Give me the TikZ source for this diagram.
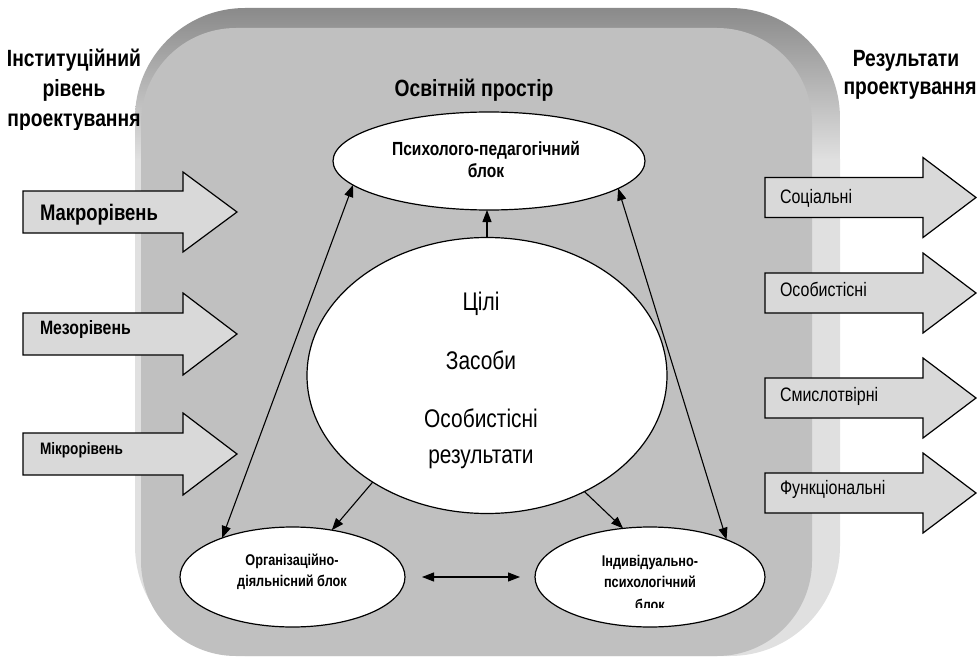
\documentclass[tikz,border=0pt]{standalone}
\usepackage{fontspec}
\setmainfont{Liberation Sans}[FakeStretch=0.82]
\usetikzlibrary{shapes.geometric,arrows.meta}
\definecolor{facegray}{HTML}{C0C0C0}
\definecolor{bevlight}{HTML}{E0E0E0}
\definecolor{bevdark}{HTML}{8A8A8A}
\definecolor{arrowfill}{HTML}{D9D9D9}
\newcommand\blkarrow[6]{\draw[blk] ({#1},{#4-#5}) -- ({#2},{#4-#5}) -- ({#2},{#4-#6}) -- ({#3},{#4}) -- ({#2},{#4+#6}) -- ({#2},{#4+#5}) -- ({#1},{#4+#5}) -- cycle;}
\newcommand\fsz[2]{\fontsize{#1}{#2}\selectfont}
\begin{document}
\begin{tikzpicture}[x=1pt,y=-1pt,
  every node/.style={inner sep=0pt,outer sep=0pt},
  ttl/.style={anchor=base,font=\bfseries\fsz{23.5}{28}},
  ell/.style={ellipse,draw,fill=white,line width=1.2pt},
  blk/.style={draw,fill=arrowfill,line width=1.2pt,line join=miter},
  con/.style={line width=1.1pt,-{Triangle[length=12pt,width=9pt]}},
  dcon/.style={line width=1.1pt,{Triangle[length=12pt,width=9pt]}-{Triangle[length=12pt,width=9pt]}},
  ltxt/.style={anchor=base west},
  rtxt/.style={anchor=base west,font=\fsz{19.5}{24}},
  ctxt/.style={anchor=base,font=\fsz{25.5}{30}},
  etxt/.style={anchor=base,font=\bfseries\fsz{15.5}{20}},
  ttxt/.style={anchor=base,font=\bfseries\fsz{19}{22}},
]
\useasboundingbox (0,0) rectangle (977,658);
% background plate
\begin{scope}
  \clip[rounded corners=110pt] (135,8) rectangle (840,656);
  \shade[top color=bevdark,bottom color=bevlight] (130,8) rectangle (845,160);
  \fill[bevlight] (130,159) rectangle (845,660);
\end{scope}
\fill[facegray,rounded corners=95pt] (141,28) rectangle (812,656);

% titles
\node[ttl] (ta) at (74,67) {Інституційний};
\node[ttl] (tb) at (74,97) {рівень};
\begin{scope}
  \clip (0,100) rectangle (160,130);
  \node[ttl] (tc) at (74,127) {проектування};
\end{scope}
\node[ttl] (ra) at (906,67) {Результати};
\node[ttl] (rb) at (910,95) {проектування};
\node[ttl] (os) at (474,97) {Освітній простір};

% left block arrows
\blkarrow{23}{183}{237}{212}{21}{40}
\blkarrow{23}{183}{237}{334}{21}{41}
\blkarrow{23}{183}{237}{454}{21}{41}
\node[ltxt,font=\bfseries\fsz{22.5}{26}] (mak) at (40,220) {Макрорівень};
\node[ltxt,font=\bfseries\fsz{19.3}{22}] (mez) at (40,334) {Мезорівень};
\node[ltxt,font=\bfseries\fsz{16.6}{20}] (mik) at (40,454) {Мікрорівень};

% right block arrows
\blkarrow{765}{923}{976}{197.5}{20}{40}
\blkarrow{765}{923}{976}{293}{20}{40}
\blkarrow{765}{923}{976}{398}{20}{40}
\blkarrow{765}{923}{976}{493}{20}{40}
\node[rtxt] (r1) at (780,203) {Соціальні};
\node[rtxt] (r2) at (780,296) {Особистісні};
\node[rtxt] (r3) at (780,401) {Смислотвірні};
\node[rtxt] (r4) at (780,494) {Функціональні};

% ellipses
\node[ell,minimum width=312pt,minimum height=98pt] (top) at (489,161) {};
\node[ttxt] (top1) at (486,155) {Психолого-педагогічний};
\node[ttxt] (top2) at (486,177) {блок};
\node[ell,minimum width=360pt,minimum height=276pt] (c) at (487,375.5) {};
\node[ctxt] (c1) at (481,310) {Цілі};
\node[ctxt] (c2) at (481,369) {Засоби};
\node[ctxt] (c3) at (481,427) {Особистісні};
\node[ctxt] (c4) at (481,463) {результати};
\node[ell,minimum width=225pt,minimum height=100pt] (ol) at (292.5,577) {};
\node[etxt] (ol1) at (292,565) {Організаційно-};
\node[etxt] (ol2) at (292,586) {діяльнісний блок};
\node[ell,minimum width=230pt,minimum height=100pt] (or) at (650,577) {};
\node[etxt] (or1) at (650,566) {Індивідуально-};
\node[etxt] (or2) at (650,587) {психологічний};
\begin{scope}
  \clip (560,590) rectangle (740,607);
  \node[etxt] (or3) at (650,610) {блок};
\end{scope}

% connectors
\draw[con] (c.north) -- (c.north |- top.south);
\draw[con] (c.223.6) -- (ol.50.2);
\draw[con] (c.310.5) -- (or.119.3);
\draw[dcon] (ol.151) -- (top.190.9);
\draw[dcon] (or.26.6) -- (top.348.5);
\draw[dcon] ([xshift=17pt]ol.east) -- ([xshift=-15pt]or.west);
\end{tikzpicture}
\end{document}
